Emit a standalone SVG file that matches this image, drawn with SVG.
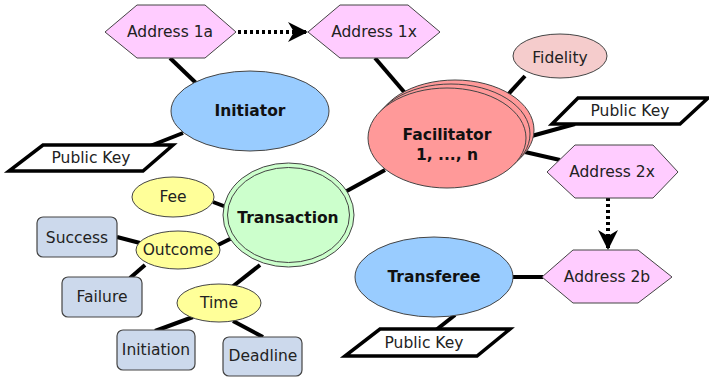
<svg xmlns="http://www.w3.org/2000/svg" width="709" height="378" viewBox="0 0 709 378">
<defs>
<style>
text{font-family:"DejaVu Sans","Liberation Sans",sans-serif;font-size:15.5px;fill:#222;text-anchor:middle;dominant-baseline:central}
.b{font-weight:bold;fill:#111}
.hex{fill:#ffccff;stroke:#444;stroke-width:1}
.pk{fill:#fff;stroke:#000;stroke-width:3.5;stroke-linejoin:miter}
.box{fill:#ccd9ec;stroke:#444;stroke-width:1.2}
.yel{fill:#ffff99;stroke:#444;stroke-width:1}
.c{stroke:#000;stroke-width:4;fill:none}
.d{stroke:#000;stroke-width:4;fill:none;stroke-dasharray:3 3}
</style>
<marker id="ah" viewBox="0 0 10 10" refX="9" refY="5" markerWidth="5" markerHeight="5" orient="auto" markerUnits="strokeWidth">
<path d="M0,0 L10,5 L0,10 L3,5 Z" fill="#000"/>
</marker>
</defs>
<g id="connectors">
<line class="c" x1="170" y1="58" x2="196" y2="83"/>
<line class="c" x1="183" y1="133" x2="150" y2="146"/>
<line class="c" x1="375" y1="58" x2="405" y2="93"/>
<line class="c" x1="525" y1="76" x2="503" y2="100"/>
<line class="c" x1="528" y1="137" x2="575" y2="124"/>
<line class="c" x1="525" y1="152" x2="560" y2="160"/>
<line class="c" x1="385" y1="170" x2="345" y2="192"/>
<line class="c" x1="513" y1="277" x2="543" y2="277"/>
<line class="c" x1="455" y1="315" x2="436" y2="330"/>
<line class="c" x1="213" y1="202" x2="229" y2="208"/>
<line class="c" x1="218" y1="245" x2="234" y2="237"/>
<line class="c" x1="117" y1="237" x2="140" y2="243"/>
<line class="c" x1="145" y1="265" x2="130" y2="278"/>
<line class="c" x1="260" y1="265" x2="232" y2="287"/>
<line class="c" x1="193" y1="317" x2="155" y2="331"/>
<line class="c" x1="233" y1="321" x2="263" y2="337"/>
<line class="d" x1="238" y1="32" x2="306" y2="32" marker-end="url(#ah)"/>
<line class="d" x1="608" y1="198" x2="608" y2="248" marker-end="url(#ah)"/>
</g>
<g id="address1a"><polygon class="hex" points="105,32 137,5 205,5 236,32 205,58 137,58"/><text x="170" y="32">Address 1a</text></g>
<g id="address1x"><polygon class="hex" points="308,32 340,5 408,5 440,32 408,58 340,58"/><text x="374" y="32">Address 1x</text></g>
<g id="initiator"><ellipse cx="250" cy="111" rx="79" ry="40" fill="#99ccff" stroke="#444"/><text class="b" x="250" y="111">Initiator</text></g>
<g id="pubkey1"><polygon class="pk" points="43,145 173,145 143,171 9,171"/><text x="91" y="158">Public Key</text></g>
<g id="facilitator">
<ellipse cx="455" cy="130" rx="79" ry="50" fill="#ff9999" stroke="#444"/>
<ellipse cx="451" cy="134" rx="79" ry="50" fill="#ff9999" stroke="#444"/>
<ellipse cx="447" cy="138" rx="79" ry="50" fill="#ff9999" stroke="#444"/>
<text class="b" x="447" y="135">Facilitator</text><text class="b" x="447" y="155">1, ..., n</text></g>
<g id="fidelity"><ellipse cx="560" cy="56" rx="47" ry="22" fill="#f5cccc" stroke="#444"/><text x="560" y="58">Fidelity</text></g>
<g id="pubkey2"><polygon class="pk" points="578,98 708,98 680,124 552,124"/><text x="630" y="111">Public Key</text></g>
<g id="address2x"><polygon class="hex" points="547,172 575,145 653,145 678,172 653,198 575,198"/><text x="612" y="172">Address 2x</text></g>
<g id="address2b"><polygon class="hex" points="542,277 573,250 638,250 672,277 638,303 573,303"/><text x="607" y="277">Address 2b</text></g>
<g id="transferee"><ellipse cx="434" cy="277" rx="79" ry="40" fill="#99ccff" stroke="#444"/><text class="b" x="434" y="277">Transferee</text></g>
<g id="pubkey3"><polygon class="pk" points="380,329 510,329 477,356 345,356"/><text x="424" y="343">Public Key</text></g>
<g id="transaction"><ellipse cx="288.5" cy="215" rx="65.5" ry="52" fill="#ccffcc" stroke="#444"/><ellipse cx="288.5" cy="215" rx="61" ry="47.5" fill="none" stroke="#444"/><text class="b" x="288" y="218">Transaction</text></g>
<g id="fee"><ellipse cx="173" cy="197" rx="41" ry="20" class="yel"/><text x="173" y="197">Fee</text></g>
<g id="outcome"><ellipse cx="178" cy="250" rx="42" ry="19" class="yel"/><text x="178" y="250">Outcome</text></g>
<g id="time"><ellipse cx="219" cy="303" rx="42" ry="19" class="yel"/><text x="219" y="303">Time</text></g>
<g id="success"><rect class="box" x="37" y="217" width="80" height="40" rx="6"/><text x="77" y="238">Success</text></g>
<g id="failure"><rect class="box" x="62" y="277" width="80" height="40" rx="6"/><text x="102" y="297">Failure</text></g>
<g id="initiation"><rect class="box" x="117" y="330" width="78" height="40" rx="6"/><text x="156" y="350">Initiation</text></g>
<g id="deadline"><rect class="box" x="223" y="337" width="79" height="39" rx="6"/><text x="263" y="356">Deadline</text></g>
</svg>
